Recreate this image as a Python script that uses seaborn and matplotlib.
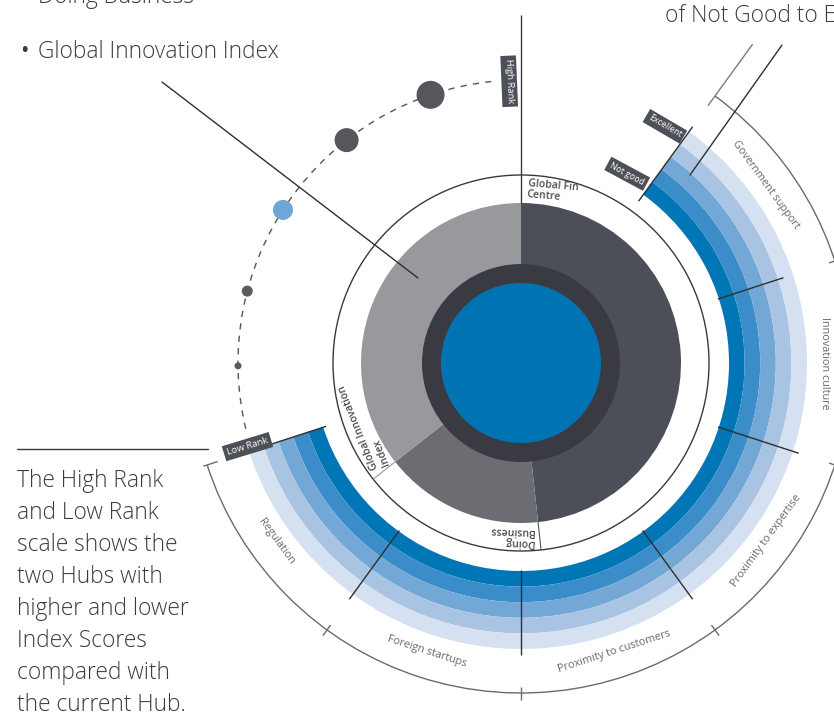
import numpy as np
import matplotlib
matplotlib.use("Agg")
import matplotlib.pyplot as plt
from matplotlib.patches import Wedge, Circle, Arc
import seaborn as sns
import pandas as pd

# ---------------- data ----------------
pie_labels = ["Global Fin\nCentre", "Doing\nBusiness", "Global Innovation\nIndex"]
pie_shares = [0.483, 0.161, 0.356]
pie_colors = ["#4c4f57", "#6c6d72", "#98999d"]

sector_labels = ["Government support", "Innovation culture", "Proximity to expertise",
                 "Proximity to customers", "Foreign startups", "Regulation"]
level_labels = ["Not good", "Fair", "Good", "Very good", "Excellent"]
level_colors = ["#0076b6", "#3a8dc8", "#73a7d5", "#a9c4e3", "#d5e1f1"]

hub_names = ["Hub A", "Hub B", "Current Hub", "Hub D", "Hub E"]
hub_scores = [13.7, 29.3, 47.7, 67.3, 87.1]      # position on Low->High rank scale (0-100)
hub_weights = [3.5, 5.5, 10.0, 12.0, 14.0]
hub_colors = ["#5a5c61", "#5a5c61", "#6ea6d9", "#55575d", "#55575d"]

bullet_items = ["Doing Business", "Global Innovation Index"]
side_note = ["The High Rank", "and Low Rank", "scale shows the", "two Hubs with",
             "higher and lower", "Index Scores", "compared with", "the current Hub."]
top_right_note = "of Not Good to Excellent"

# ---------------- setup ----------------
sns.set_theme(style="white")
plt.rcParams['font.family'] = ['Open Sans', 'DejaVu Sans']

fig = plt.figure(figsize=(8.34, 7.12), dpi=100)
ax = fig.add_axes([0, 0, 1, 1])
ax.set_xlim(-521, 313)
ax.set_ylim(-349, 363)
ax.set_aspect('equal')
ax.axis('off')


def pol(phi, r):
    t = np.radians(phi)
    return r * np.sin(t), r * np.cos(t)


def wedge(phi1, phi2, r, width=None, **kw):
    return Wedge((0, 0), r, 90 - phi2, 90 - phi1, width=width, **kw)


def seg(phi, r1, r2, **kw):
    x1, y1 = pol(phi, r1)
    x2, y2 = pol(phi, r2)
    ax.plot([x1, x2], [y1, y2], solid_capstyle='butt', **kw)


# ---------------- centre pie ----------------
bounds = np.concatenate([[0], np.cumsum(pie_shares) * 360])
for i, c in enumerate(pie_colors):
    ax.add_patch(wedge(bounds[i], bounds[i + 1], 160, color=c, lw=0))
ax.add_patch(Circle((0, 0), 99, color="#3a3b42", lw=0))
ax.add_patch(Circle((0, 0), 80, color="#0074b3", lw=0))
ax.add_patch(Circle((0, 0), 188, fill=False, ec="#3a3a3a", lw=1.0))

# slice boundaries across the white ring
seg(bounds[1], 160, 188, color="#555555", lw=0.8)
seg(bounds[2], 160, 188, color="#9a9a9a", lw=0.8)
seg(0, 160, 348, color="#3a3a3a", lw=1.0)

label_rot = [-5, 178, 112]
for i, lab in enumerate(pie_labels):
    phi = bounds[i] + 2.3
    x, y = pol(phi, 185)
    ax.text(x, y, lab, rotation=label_rot[i], rotation_mode='anchor', ha='left', va='top',
            fontsize=7.6, fontweight='semibold', color="#4a4a4a", linespacing=1.0)

# ---------------- score bands ----------------
start_phi = 36
step = 36
end_phi = start_phi + step * len(sector_labels)
r0 = 208
bw = 15.6
for i, c in enumerate(level_colors):
    ax.add_patch(wedge(start_phi, end_phi, r0 + bw * (i + 1), width=bw, color=c, lw=0))

seg(start_phi, 200, 292, color="#2f2f2f", lw=1.0)
seg(end_phi, 205, 293, color="#2f2f2f", lw=1.0)
for k in range(1, len(sector_labels)):
    seg(start_phi + k * step, 207, 292 if k > 1 else 276, color="#2f2f2f", lw=1.0)

# outer bracket arc with ticks
ax.add_patch(Arc((0, 0), 660, 660, theta1=90 - end_phi, theta2=90 - start_phi,
                 color="#6b6b6b", lw=1.0))
for k in range(1, len(sector_labels)):
    seg(start_phi + k * step, 324, 337, color="#6b6b6b", lw=1.0)
seg(end_phi, 319, 334, color="#6b6b6b", lw=1.0)
seg(start_phi, 318, 394, color="#7a7a7a", lw=1.0)

# sector labels
for k, lab in enumerate(sector_labels):
    phi = start_phi + step * (k + 0.5)
    rot = -phi
    if 90 < phi < 270:
        rot += 180
    x, y = pol(phi, 303)
    ax.text(x, y, lab, rotation=rot, rotation_mode='anchor', ha='center', va='center',
            fontsize=7.8, color="#6a6a6a")

# level tags
box = dict(boxstyle='square,pad=0.35', fc="#4d5057", ec='none')
for lab, phi, r in [(level_labels[0], 29.3, 217), (level_labels[-1], 31.3, 277)]:
    x, y = pol(phi, r)
    ax.text(x, y, lab, rotation=-phi + 1, rotation_mode='anchor', ha='center', va='center',
            fontsize=6.3, color='white', bbox=box)

# pointer from the Government support band
ax.plot([169, 261], [188, 318], color="#2f2f2f", lw=1.0)

# ---------------- rank scale (dashed arc + hubs) ----------------
low_phi, high_phi, rr = 256, 354, 283
ax.add_patch(Arc((0, 0), 2 * rr, 2 * rr, theta1=90 - high_phi, theta2=90 - low_phi,
                 color="#555555", lw=1.0, ls=(0, (4.5, 4.5))))
hub_phi = [low_phi + s / 100 * (high_phi - low_phi) for s in hub_scores]
hx, hy = zip(*[pol(p, rr) for p in hub_phi])
df = pd.DataFrame({"x": hx, "y": hy, "hub": hub_names})
sizes = {n: (2 * w * 0.72) ** 2 for n, w in zip(hub_names, hub_weights)}
pal = dict(zip(hub_names, hub_colors))
sns.scatterplot(data=df, x="x", y="y", hue="hub", size="hub", sizes=sizes, palette=pal,
                legend=False, ax=ax, linewidth=0, zorder=5)

for lab, phi, r in [("Low Rank", 253, 286), ("High Rank", 357.6, 282)]:
    x, y = pol(phi, r)
    rot = 90 - phi + 180
    rot = (rot + 180) % 360 - 180
    ax.text(x, y, lab, rotation=rot, rotation_mode='anchor', ha='center', va='center',
            fontsize=6.8, color='white', bbox=box, zorder=6)

# ---------------- annotation texts ----------------
txt_col = "#3c3c3c"
fs = 16.4
for i, item in enumerate(bullet_items):
    yb = 360 - 55 * i
    ax.text(-501, yb, "\u2022", fontsize=fs, color=txt_col, va='baseline', ha='left')
    ax.text(-483, yb, item, fontsize=fs, color=txt_col, va='baseline', ha='left',
            fontweight='light')
ax.plot([-359, -103], [281, 85], color="#2f2f2f", lw=1.0)

ax.text(144, 341, top_right_note, fontsize=fs, color=txt_col, va='baseline', ha='left',
        fontweight='light')

ax.plot([-504, -313], [-86, -86], color="#3a3a3a", lw=1.0)
for i, line in enumerate(side_note):
    ax.text(-504, -124 - 32 * i, line, fontsize=fs, color=txt_col, va='baseline',
            ha='left', fontweight='light')

fig.savefig("out.png", dpi=100)
